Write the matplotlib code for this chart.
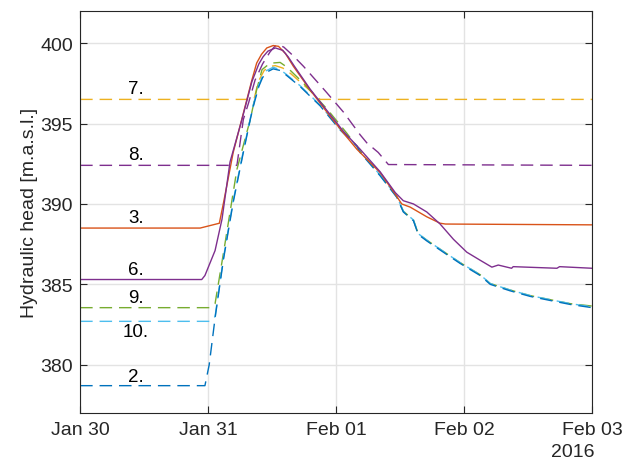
import numpy as np
import matplotlib
matplotlib.use("Agg")
import matplotlib.pyplot as plt
import matplotlib.dates as mdates
from datetime import datetime, timedelta

# hydraulic head per piezometer, hours after 2016-01-30 00:00
t2 = [0, 23.4, 24.2, 25.3, 26.9, 28.7, 30.6, 31.9, 32.5, 33.5, 34.2, 35.0,
      36.2, 37.5, 38.5, 41.25, 45, 48.75, 51.9, 52.5, 56.25, 59.4, 60.6, 62.5,
      63.4, 65, 68.1, 71.25, 75, 76.9, 80.6, 84.4, 88.1, 91.9, 96]
h2 = [378.7, 378.7, 380.0, 382.9, 386.6, 390.1, 393.2, 395.25, 396.1, 397.3,
      397.85, 398.2, 398.4, 398.3, 398.05, 397.3, 396.1, 394.6, 393.6, 393.2,
      391.75, 390.4, 389.5, 388.95, 388.1, 387.7, 387.0, 386.3, 385.55, 385.0,
      384.6, 384.25, 384.0, 383.75, 383.55]

t10 = [0, 24.6, 25.3, 26.9, 28.7, 30.6, 31.9, 32.5, 33.5, 34.2, 35.0, 36.2,
       37.5, 38.5, 41.25, 45, 48.75, 51.9, 52.5, 56.25, 59.4, 60.6, 62.5, 63.4,
       65, 68.1, 71.25, 75, 76.9, 80.6, 84.4, 88.1, 91.9, 96]
h10 = [382.7, 382.7, 383.0, 386.7, 390.2, 393.3, 395.3, 396.2, 397.4, 397.95,
       398.3, 398.5, 398.35, 398.1, 397.35, 396.15, 394.65, 393.6, 393.25,
       391.8, 390.45, 389.55, 389.0, 388.15, 387.75, 387.05, 386.35, 385.6,
       385.05, 384.65, 384.3, 384.05, 383.8, 383.6]

t9 = [0, 24.4, 25.3, 26.9, 29.4, 31.9, 33.1, 34.1, 35.6, 37.5, 38.8, 41.9,
      46.3, 50, 52.5, 56.25, 59.4, 60.6, 62.5, 63.4, 65, 68.1, 71.25, 75, 76.9,
      80.6, 84.4, 88.1, 91.9, 96]
h9 = [383.55, 383.55, 383.8, 387.0, 392.15, 395.25, 397.1, 398.35, 398.75,
      398.8, 398.5, 397.5, 395.9, 394.4, 393.3, 391.8, 390.45, 389.55, 389.0,
      388.15, 387.75, 387.05, 386.35, 385.6, 385.05, 384.65, 384.3, 384.05,
      383.8, 383.65]

t7 = [0, 32.6, 33.4, 34.5, 35.6, 36.6, 38, 39.5, 41.9, 45, 96]
h7 = [396.5, 396.5, 397.6, 398.3, 398.55, 398.6, 398.45, 398.1, 397.4, 396.5,
      396.5]

t8 = [0, 29.4, 30.6, 31.6, 32.8, 34.2, 35.6, 36.5, 37.2, 38.2, 40, 41.9, 46.3,
      49.4, 52.5, 53.75, 55.9, 57.8, 96]
h8 = [392.4, 392.4, 395.25, 396.3, 397.7, 398.7, 399.45, 399.8, 399.9, 399.75,
      399.2, 398.55, 396.9, 395.7, 394.3, 393.8, 393.2, 392.45, 392.4]

t3 = [0, 22.5, 23.1, 26.1, 26.9, 28.7, 30.3, 32.2, 33.1, 34.0, 35, 36.2, 37.2,
      38.5, 40, 43.1, 46.3, 49.4, 51.9, 56.25, 59.1, 60.3, 61.9, 65, 67.5,
      68.5, 96]
h3 = [388.5, 388.5, 388.55, 388.8, 390.1, 393.2, 395.25, 397.7, 398.76, 399.3,
      399.7, 399.85, 399.8, 399.35, 398.55, 397.1, 395.7, 394.4, 393.4, 391.95,
      390.6, 390.0, 389.8, 389.2, 388.8, 388.75, 388.7]

t6 = [0, 22.8, 23.4, 25.3, 26.6, 28.1, 30.3, 32.2, 33.5, 34.3, 35.2, 36.6, 38,
      39.0, 40.2, 43.1, 46.3, 49.4, 52.5, 56.25, 59.1, 60.6, 62.5, 65, 67.5,
      70, 72.5, 75, 77.2, 78.4, 80.9, 81.2, 89.4, 89.9, 96]
h6 = [385.3, 385.3, 385.55, 387.1, 389.05, 392.6, 395.2, 397.6, 398.7, 399.15,
      399.5, 399.7, 399.55, 399.15, 398.55, 397.15, 395.8, 394.5, 393.4, 392.0,
      390.7, 390.2, 390.0, 389.5, 388.75, 387.8, 387.0, 386.5, 386.07, 386.2,
      386.0, 386.1, 386.0, 386.1, 386.0]

names = ['7.', '8.', '3.', '6.', '9.', '10.', '2.']
label_y = [397.15, 393.1, 389.15, 385.95, 384.2, 382.05, 379.3]

blue, orange, yellow = '#0072BD', '#D95319', '#EDB120'
purple, green, cyan = '#7E2F8E', '#77AC30', '#4DBEEE'

base = datetime(2016, 1, 30)


def to_dates(hours):
    return [base + timedelta(hours=h) for h in hours]


plt.rcParams['font.family'] = ['Liberation Sans', 'DejaVu Sans']
plt.rcParams['font.size'] = 14

fig = plt.figure(figsize=(6.36, 4.60), dpi=100)
ax = fig.add_axes([0.126, 0.1, 0.805, 0.874])

dash = (0, (9, 5))
lw = 1.0
ax.plot(to_dates(t7), h7, color=yellow, lw=lw, ls=dash)
ax.plot(to_dates(t8), h8, color=purple, lw=lw, ls=dash)
ax.plot(to_dates(t9), h9, color=green, lw=lw, ls=dash)
ax.plot(to_dates(t10), h10, color=cyan, lw=lw, ls=dash)
ax.plot(to_dates(t2), h2, color=blue, lw=lw, ls=dash)
ax.plot(to_dates(t3), h3, color=orange, lw=lw)
ax.plot(to_dates(t6), h6, color=purple, lw=lw)

for name, yv in zip(names, label_y):
    ax.text(base + timedelta(hours=10.5), yv, name, ha='center', va='center',
            fontsize=13.5)

ax.set_xlim(base, base + timedelta(days=4))
ax.set_ylim(377, 402)
ax.set_yticks([380, 385, 390, 395, 400])
ax.xaxis.set_major_locator(mdates.DayLocator())
ax.xaxis.set_major_formatter(mdates.DateFormatter('%b %d'))
ax.text(1.005, -0.095, '2016', transform=ax.transAxes, ha='right',
        va='center', color='#262626')
ax.set_ylabel('Hydraulic head [m.a.s.l.]', color='#262626', labelpad=2)

ax.grid(True, color='#E3E3E3', lw=1.0)
ax.set_axisbelow(True)
ax.tick_params(direction='in', length=5, top=True, right=True,
               colors='#262626', labelcolor='#262626', width=0.8)
ax.tick_params(axis='x', pad=5.5)
ax.tick_params(axis='y', pad=5)
for sp in ax.spines.values():
    sp.set_color('#262626')
    sp.set_linewidth(0.8)

fig.savefig('out.png', dpi=100)
